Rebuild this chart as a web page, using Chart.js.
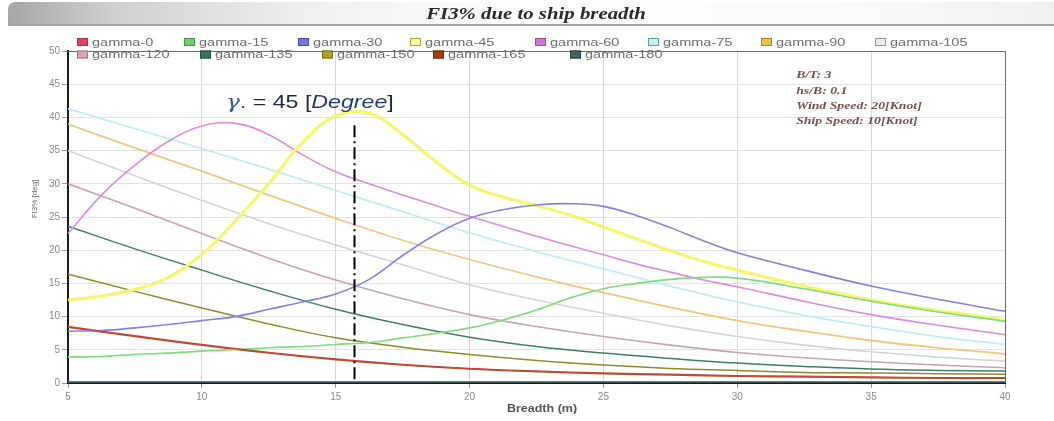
<!DOCTYPE html>
<html>
<head>
<meta charset="utf-8">
<title>FI3% due to ship breadth</title>
<script src="https://cdn.jsdelivr.net/npm/chart.js@4/dist/chart.umd.min.js"></script>
<style>
  html, body { margin: 0; padding: 0; background: #fff; width: 1054px; height: 421px; overflow: hidden; }
  #wrap { position: relative; width: 1054px; height: 421px; }
  #banner {
    position: absolute; left: 8px; top: 2px; width: 1046px; height: 22px;
    border-radius: 7px 0 0 0;
    background: linear-gradient(to right, #a6a6a6 0%, #cfcfcf 10%, #efefef 28%, #ffffff 50%, #fafafa 80%, #f0f0f0 100%);
    border-bottom: 2px solid #a4a4a4;
    z-index: 2;
  }
  #banner span {
    position: absolute; left: 0; width: 1056px; top: 3px; text-align: center;
    font: bold italic 16px "Liberation Serif", "DejaVu Serif", serif; color: #2a2a2a;
    transform: scaleX(1.3); transform-origin: 528px 0;
  }
  #chart { position: absolute; left: 0; top: 0; z-index: 1; }
</style>
</head>
<body>
<div id="wrap">
  <div id="banner"><span>FI3% due to ship breadth</span></div>
  <canvas id="chart" width="1054" height="421"></canvas>
</div>
<script>
// Breadth grids (m): a finer one for the peaked headings, a coarser one for the rest
const breadthFine   = [5, 6.25, 7.5, 8.75, 10, 11.25, 12.5, 13.75, 15, 16.25, 17.5, 18.75, 20, 21.25, 22.5, 23.75, 25, 26.25, 27.5, 28.75, 30, 32.5, 35, 37.5, 40];
const breadthCoarse = [5, 7.5, 10, 12.5, 15, 17.5, 20, 22.5, 25, 27.5, 30, 32.5, 35, 37.5, 40];

// FI3% [deg] per wave heading (gamma)
const gamma0   = [8.5, 7.1, 5.8, 4.6, 3.6, 2.8, 2.2, 1.8, 1.5, 1.3, 1.1, 1.0, 0.9, 0.8, 0.8];
const gamma15  = [3.9, 4.0, 4.3, 4.5, 4.8, 5.0, 5.3, 5.5, 5.8, 6.1, 6.8, 7.5, 8.3, 9.5, 11.0, 12.8, 14.2, 15.0, 15.6, 15.9, 15.8, 14.2, 12.3, 10.7, 9.3];
const gamma30  = [7.8, 7.9, 8.3, 8.8, 9.4, 10.0, 11.1, 12.2, 13.4, 15.6, 19.2, 22.4, 24.8, 26.1, 26.8, 27.0, 26.6, 25.2, 23.4, 21.4, 19.6, 17.0, 14.6, 12.6, 10.8];
const gamma45  = [12.5, 13.1, 14.1, 15.9, 19.4, 24.4, 30.0, 36.2, 40.2, 40.6, 37.4, 33.3, 29.8, 28.0, 26.7, 25.3, 23.5, 21.7, 19.9, 18.3, 17.0, 14.6, 12.5, 10.9, 9.5];
const gamma60  = [22.5, 28.3, 32.8, 36.4, 38.7, 39.1, 37.4, 34.4, 31.8, 30.0, 28.3, 26.7, 25.1, 23.6, 22.1, 20.7, 19.3, 17.9, 16.7, 15.5, 14.5, 12.3, 10.3, 8.7, 7.3];
const gamma75  = [41.3, 38.3, 35.3, 32.2, 29.0, 25.8, 22.6, 19.8, 17.2, 14.6, 12.2, 10.2, 8.5, 7.0, 5.8];
const gamma90  = [39.0, 35.4, 31.9, 28.3, 24.8, 21.5, 18.6, 16.0, 13.6, 11.4, 9.4, 7.8, 6.4, 5.3, 4.4];
const gamma105 = [35.0, 31.2, 27.5, 24.0, 20.8, 17.8, 14.8, 12.5, 10.5, 8.6, 7.0, 5.7, 4.7, 3.9, 3.3];
const gamma120 = [30.0, 26.3, 22.5, 18.8, 15.5, 12.7, 10.3, 8.5, 7.0, 5.7, 4.6, 3.8, 3.2, 2.7, 2.3];
const gamma135 = [23.6, 20.2, 17.0, 13.9, 11.1, 8.8, 6.9, 5.5, 4.5, 3.7, 3.0, 2.5, 2.1, 1.9, 1.8];
const gamma150 = [16.4, 13.8, 11.3, 8.9, 6.8, 5.4, 4.3, 3.4, 2.7, 2.2, 1.9, 1.6, 1.5, 1.4, 1.3];
const gamma165 = [8.4, 7.0, 5.7, 4.5, 3.5, 2.7, 2.1, 1.7, 1.4, 1.2, 1.0, 0.9, 0.8, 0.7, 0.7];
const gamma180 = [0.2, 0.2, 0.2, 0.2, 0.2, 0.2, 0.2, 0.2, 0.2, 0.2, 0.2, 0.2, 0.2, 0.2, 0.2];

const seriesNames = ['gamma-0', 'gamma-15', 'gamma-30', 'gamma-45', 'gamma-60', 'gamma-75', 'gamma-90',
                     'gamma-105', 'gamma-120', 'gamma-135', 'gamma-150', 'gamma-165', 'gamma-180'];

// Axis ticks
const xTicks = [5, 10, 15, 20, 25, 30, 35, 40];
const yTicks = [0, 5, 10, 15, 20, 25, 30, 35, 40, 45, 50];

// Marked heading line and its caption
const markBreadth = 15.7;
const markTop = 38.8;
const markCaptionAt = [10.9, 41.4];

// Case parameters shown in the corner
const caseNotes = ['B/T: 3', 'hs/B: 0.1', 'Wind Speed: 20[Knot]', 'Ship Speed: 10[Knot]'];

// ---- styling ----
const lineColors = ['#c4473e', '#7ade7a', '#8282e6', '#f6f66c', '#e089e0', '#bfedf4', '#f1c77c',
                    '#d9d1d9', '#c8a3b3', '#3f7e67', '#8e8c2a', '#b5531f', '#4c8886'];
const lineWidths = [1.5, 1.6, 1.6, 3.2, 1.6, 1.8, 1.8, 1.6, 1.6, 1.5, 1.5, 1.5, 1.5];
const boxFill    = ['#df4663', '#6ccf6c', '#7474d6', '#f7f7a6', '#d574d5', '#c8f2f2', '#e9c64a',
                    '#ebebeb', '#d9a6b6', '#3b7262', '#a4a428', '#a33e12', '#3f6464'];
const boxEdge    = ['#b02a44', '#3f9a3f', '#4a4aa8', '#a8a83a', '#a64aa6', '#5aa0a0', '#a8841a',
                    '#9a9a9a', '#a8707f', '#244a3e', '#707014', '#6e280a', '#244040'];
const legendX = [77, 184, 298, 410, 535, 648, 761, 875, 77, 200, 322, 433, 570];
const legendRowY = [42, 54.5];

const seriesData = [gamma0, gamma15, gamma30, gamma45, gamma60, gamma75, gamma90,
                    gamma105, gamma120, gamma135, gamma150, gamma165, gamma180];

const datasets = seriesData.map((vals, i) => {
  const xs = vals.length === breadthFine.length ? breadthFine : breadthCoarse;
  return {
    label: seriesNames[i],
    data: xs.map((b, k) => ({ x: b, y: vals[k] })),
    borderColor: lineColors[i],
    backgroundColor: boxFill[i],
    borderWidth: lineWidths[i],
    pointRadius: 0,
    pointHoverRadius: 0,
    fill: false,
    tension: 0.4
  };
});

function stretchedText(ctx, text, x, y, sx, align) {
  ctx.save();
  ctx.translate(x, y);
  ctx.scale(sx, 1);
  ctx.textAlign = align || 'left';
  ctx.fillText(text, 0, 0);
  ctx.restore();
}

const decorations = {
  id: 'decorations',
  beforeDatasetsDraw(chart) {
    const { ctx, chartArea: a } = chart;
    ctx.save();
    ctx.strokeStyle = '#6a6a6a';
    ctx.lineWidth = 1;
    ctx.beginPath();
    ctx.moveTo(a.left, a.top + 0.5);
    ctx.lineTo(a.right + 0.5, a.top + 0.5);
    ctx.lineTo(a.right + 0.5, a.bottom);
    ctx.stroke();
    ctx.restore();
  },
  afterDatasetsDraw(chart) {
    const { ctx, scales: { x, y } } = chart;
    // dash-dot marker at the chosen breadth
    ctx.save();
    ctx.strokeStyle = '#000';
    ctx.lineWidth = 2;
    ctx.setLineDash([12, 4, 2, 4]);
    const px = Math.round(x.getPixelForValue(markBreadth)) + 0.5;
    ctx.beginPath();
    ctx.moveTo(px, y.getPixelForValue(markTop));
    ctx.lineTo(px, y.getPixelForValue(0));
    ctx.stroke();
    ctx.restore();

    // caption for the marked heading
    ctx.save();
    let cx = x.getPixelForValue(markCaptionAt[0]);
    const cy = y.getPixelForValue(markCaptionAt[1]);
    ctx.textBaseline = 'alphabetic';
    const sx = 1.22;
    const parts = [
      ['italic 19px "DejaVu Serif", serif', '#2c5aa0', '\u03B3'],
      ['19px "Liberation Sans", sans-serif', '#2c5aa0', '.'],
      ['19px "Liberation Sans", sans-serif', '#1e2a44', ' = 45 ['],
      ['italic 19px "Liberation Sans", sans-serif', '#243c78', 'Degree'],
      ['19px "Liberation Sans", sans-serif', '#1e2a44', ']']
    ];
    parts.forEach(([font, color, t]) => {
      ctx.font = font;
      ctx.fillStyle = color;
      stretchedText(ctx, t, cx, cy, sx, 'left');
      cx += ctx.measureText(t).width * sx;
    });
    ctx.restore();

    // case notes
    ctx.save();
    ctx.font = 'bold italic 11px "Liberation Serif", serif';
    ctx.fillStyle = '#74504f';
    ctx.textBaseline = 'middle';
    const nx = x.getPixelForValue(32.2);
    caseNotes.forEach((t, i) => {
      stretchedText(ctx, t, nx, y.getPixelForValue(46.3 - i * 2.3), 1.25, 'left');
    });
    ctx.restore();
  },
  afterDraw(chart) {
    const { ctx } = chart;
    // legend, two rows
    ctx.save();
    ctx.font = '11px "Liberation Sans", sans-serif';
    ctx.textBaseline = 'middle';
    seriesNames.forEach((name, i) => {
      const row = i < 8 ? 0 : 1;
      const bx = legendX[i];
      const cy = legendRowY[row];
      ctx.fillStyle = boxFill[i];
      ctx.fillRect(bx, cy - 4, 11, 8);
      ctx.strokeStyle = boxEdge[i];
      ctx.lineWidth = 1;
      ctx.strokeRect(bx + 0.5, cy - 3.5, 10, 7);
      ctx.fillStyle = '#6e6e6e';
      stretchedText(ctx, name, bx + 15, cy + 0.5, 1.32, 'left');
    });
    ctx.restore();

    // axis titles
    ctx.save();
    ctx.fillStyle = '#555';
    ctx.font = 'bold 10px "Liberation Sans", sans-serif';
    ctx.textBaseline = 'middle';
    stretchedText(ctx, 'Breadth (m)', 542, 409, 1.25, 'center');
    ctx.translate(35, 199);
    ctx.rotate(-Math.PI / 2);
    ctx.font = '8px "Liberation Sans", sans-serif';
    ctx.fillStyle = '#666';
    ctx.textAlign = 'center';
    ctx.fillText('FI3% [deg]', 0, 0);
    ctx.restore();
  }
};

new Chart(document.getElementById('chart'), {
  type: 'line',
  data: { datasets },
  options: {
    responsive: false,
    animation: false,
    events: [],
    layout: { padding: { top: 51, right: 49, left: 0, bottom: 0 } },
    plugins: { legend: { display: false }, tooltip: { enabled: false }, title: { display: false } },
    scales: {
      x: {
        type: 'linear', min: 5, max: 40,
        afterFit(s) { s.height = 38; },
        afterBuildTicks(s) { s.ticks = xTicks.map(v => ({ value: v })); },
        border: { color: '#1a1a1a', width: 2 },
        grid: { color: '#d6d6d6', lineWidth: 1, tickLength: 5, tickColor: '#9a9a9a' },
        ticks: { color: '#8a8a8a', font: { family: 'Liberation Sans', size: 10 }, padding: 3, maxRotation: 0 }
      },
      y: {
        type: 'linear', min: 0, max: 50,
        afterFit(s) { s.width = 68; },
        afterBuildTicks(s) { s.ticks = yTicks.map(v => ({ value: v })); },
        border: { color: '#1a1a1a', width: 2 },
        grid: { color: '#e2e2e2', lineWidth: 1, tickLength: 6, tickColor: '#9a9a9a' },
        ticks: { color: '#8a8a8a', font: { family: 'Liberation Sans', size: 10 }, padding: 2 }
      }
    }
  },
  plugins: [decorations]
});
</script>
</body>
</html>
